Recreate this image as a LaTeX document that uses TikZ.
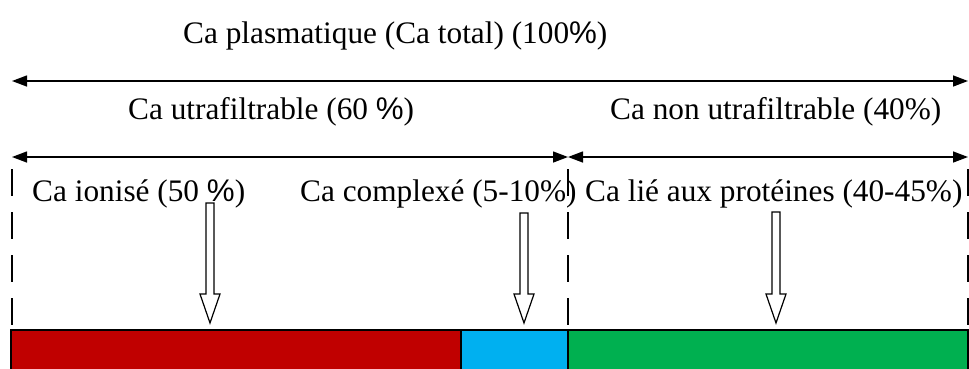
\documentclass[tikz,border=0pt]{standalone}
\usepackage{fontspec}
\setmainfont{Liberation Serif}
\newfontfamily\pctfont{Liberation Sans}
\usetikzlibrary{arrows.meta,calc}

% hollow block arrow pointing down, from top point #1 to tip point #2
\newcommand{\hollowdown}[2]{%
  \draw[hollow] ($(#1)+(-4,0)$) -- ($(#1)+(4,0)$) -- ($(#2)+(4,-29)$)
    -- ($(#2)+(10,-29)$) -- (#2) -- ($(#2)+(-10,-29)$) -- ($(#2)+(-4,-29)$) -- cycle;}

\begin{document}
\begin{tikzpicture}[x=1pt,y=-1pt,
  lbl/.style={anchor=base west, inner sep=0pt, font=\fontsize{31.3}{37}\selectfont},
  span/.style={{Triangle[length=15pt,width=11pt]}-{Triangle[length=15pt,width=11pt]}, line width=1.4pt},
  divider/.style={line width=1.8pt, dash pattern=on 27pt off 16pt},
  segment/.style={draw, line width=1.4pt, anchor=north west, minimum height=40pt,
    inner sep=0pt, outer sep=0pt},
  hollow/.style={draw, fill=white, line width=1.2pt, line join=miter}
]
\useasboundingbox (0,0) rectangle (969,368);

\definecolor{ionred}{HTML}{C00000}
\definecolor{cplxblue}{HTML}{00B0F0}
\definecolor{protgreen}{HTML}{00B050}

% headings
\node[lbl] (total) at (183,43) {Ca plasmatique (Ca total) (100{\pctfont\%})};
\node[lbl] (uf)    at (128,119) {Ca utrafiltrable (60 {\pctfont\%})};
\node[lbl] (nuf)   at (610,119) {Ca non utrafiltrable (40\%)};

% span arrows
\coordinate (L) at (12,81);
\coordinate (R) at (968,81);
\draw[span] (L) -- (R);
\coordinate (L2) at (12,157);
\coordinate (M2) at (568,157);
\coordinate (R2) at (968,157);
\draw[span] (L2) -- (M2);
\draw[span] (M2) -- (R2);

% dashed dividers
\foreach \x/\n in {12/a,568/b,968/c}{
  \coordinate (d\n top) at (\x,169);
  \coordinate (d\n bot) at (\x,330);
  \draw[divider] (d\n top) -- (d\n bot);
}

% bar segments
\node[segment, fill=ionred,    minimum width=450pt] (ion)  at (11,330)  {};
\node[segment, fill=cplxblue,  minimum width=107pt] (cplx) at (461,330) {};
\node[segment, fill=protgreen, minimum width=400pt] (prot) at (568,330) {};

% fraction labels
\node[lbl] (lion)  at (32,201)  {Ca ionisé (50 {\pctfont\%})};
\node[lbl] (lcplx) at (300,201) {Ca complexé (5-10\%)};
\node[lbl] (lprot) at (585,201) {Ca lié aux protéines (40-45\%)};

% hollow arrows from labels to the bar
\coordinate (ionA)  at (210,203);
\coordinate (ionB)  at (210,323);
\coordinate (cplxA) at (524,213);
\coordinate (cplxB) at (524,323);
\coordinate (protA) at (776,212);
\coordinate (protB) at (776,323);
\hollowdown{ionA}{ionB}
\hollowdown{cplxA}{cplxB}
\hollowdown{protA}{protB}
\end{tikzpicture}
\end{document}
